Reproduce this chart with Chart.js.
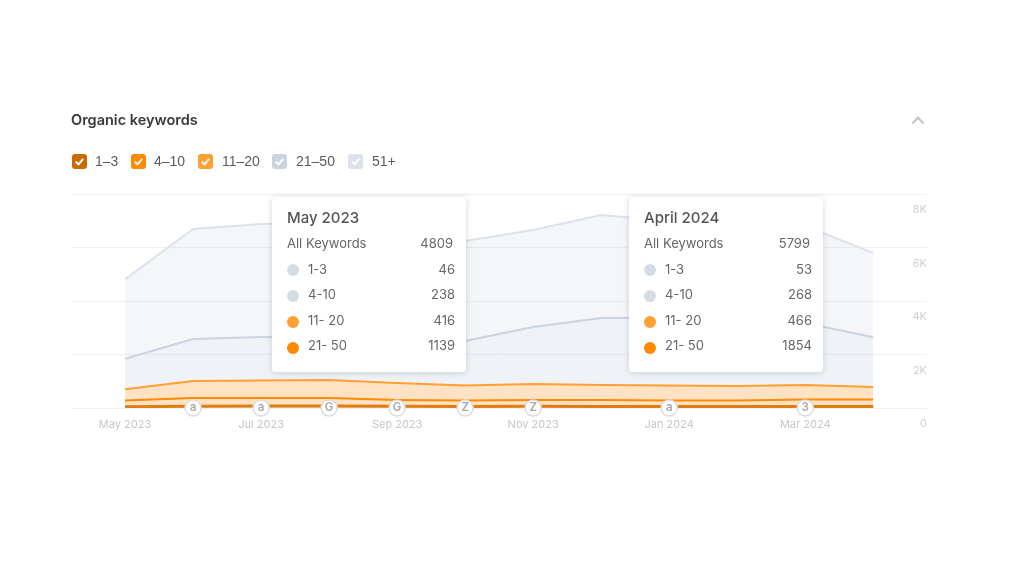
<!DOCTYPE html>
<html>
<head>
<meta charset="utf-8">
<script src="https://cdn.jsdelivr.net/npm/chart.js@4"></script>
<style>
  body { margin: 0; background: #fff; width: 1024px; height: 576px; overflow: hidden; position: relative; }
  #myChart { position: absolute; left: 0; top: 0; }
  #title { position: absolute; left: 71px; top: 111px; font: 600 14.5px Inter, sans-serif; color: #3a3a3a; }
  #chevron { position: absolute; left: 911px; top: 114px; }
  .check { position: absolute; top: 154px; width: 15px; height: 15px; border-radius: 3px; }
  .check svg { display: block; }
  .checkLabel { position: absolute; top: 153px; font: 14px "Liberation Sans", sans-serif; color: #5c5c5c; }
  .tip { position: absolute; top: 197px; width: 194px; height: 175px; background: #fff; border-radius: 4px;
         box-shadow: 0 1px 6px rgba(60,70,90,.22); font-family: Inter, sans-serif; color: #666; }
  .tip div { position: absolute; white-space: nowrap; }
  .tipTitle { left: 15px; top: 11px; font-size: 15px; font-weight: 500; color: #555; }
  .tipName { left: 15px; font-size: 13px; }
  .tipVal { right: 11px; font-size: 13px; }
  .tipDot { left: 15px; width: 12px; height: 12px; border-radius: 50%; }
</style>
</head>
<body>
<canvas id="myChart" width="1024" height="576"></canvas>
<div id="title">Organic keywords</div>
<svg id="chevron" width="14" height="12"><path d="M1.5 9.5 L7 3.5 L12.5 9.5" fill="none" stroke="#c4c4c4" stroke-width="2"/></svg>
<script>
const months = ['May 2023','Jun 2023','Jul 2023','Aug 2023','Sep 2023','Oct 2023','Nov 2023','Dec 2023','Jan 2024','Feb 2024','Mar 2024','Apr 2024'];

const pos1to3 =    [46, 70, 72, 75, 62, 58, 62, 60, 55, 55, 60, 53];
const pos4to10 =   [238, 304, 302, 299, 237, 222, 237, 239, 225, 225, 258, 268];
const pos11to20 =  [416, 636, 654, 673, 636, 561, 598, 561, 561, 543, 542, 466];
const pos21to50 =  [1139, 1569, 1626, 1644, 1644, 1663, 2131, 2504, 2523, 2467, 2317, 1854];
const pos51plus =  [2970, 4111, 4226, 4259, 3921, 3739, 3626, 3851, 3626, 3625, 3623, 3158];

// letters in the little round badges sitting on the x axis
const badgeIndex = [1, 2, 3, 4, 5, 6, 8, 10];
const badgeLetters = ['a', 'a', 'G', 'G', 'Z', 'Z', 'a', '3'];

const legendNames = ['1–3', '4–10', '11–20', '21–50', '51+'];
const legendColors = ['#c96a04', '#ff8a00', '#ffa033', '#cbd3de', '#dde2ea'];
const legendBoxX = [72, 131, 198, 272, 348];
const legendTextX = [95, 154, 222, 296, 372];

const tipTitles = ['May 2023', 'April 2024'];
const tipIndex = [0, 11];
const tipLeft = [272, 629];
const tipNames = ['1-3', '4-10', '11- 20', '21- 50'];
const tipDots = ['#d5dce5', '#d5dce5', '#ffa033', '#ff8a00'];
const tipSeries = [pos1to3, pos4to10, pos11to20, pos21to50];

const toPoints = (arr) => arr.map((v, i) => ({ x: i, y: v }));

// legend
legendNames.forEach((name, i) => {
  const box = document.createElement('div');
  box.className = 'check';
  box.style.left = legendBoxX[i] + 'px';
  box.style.background = legendColors[i];
  box.innerHTML = '<svg width="15" height="15"><path d="M3.8 7.8 L6.5 10.4 L11.2 4.9" fill="none" stroke="#fff" stroke-width="2"/></svg>';
  document.body.appendChild(box);
  const txt = document.createElement('div');
  txt.className = 'checkLabel';
  txt.style.left = legendTextX[i] + 'px';
  txt.textContent = name;
  document.body.appendChild(txt);
});

// the two pinned tooltips
tipTitles.forEach((title, t) => {
  const idx = tipIndex[t];
  const total = pos1to3[idx] + pos4to10[idx] + pos11to20[idx] + pos21to50[idx] + pos51plus[idx];
  let html = `<div class="tipTitle">${title}</div>`;
  html += `<div class="tipName" style="top:38px">All Keywords</div><div class="tipVal" style="top:38px;right:13px">${total}</div>`;
  tipNames.forEach((name, i) => {
    const top = 64 + i * 25.4;
    html += `<div class="tipDot" style="top:${67 + i * 26}px;background:${tipDots[i]}"></div>`;
    html += `<div class="tipName" style="left:36px;top:${top}px">${name}</div>`;
    html += `<div class="tipVal" style="top:${top}px">${tipSeries[i][idx]}</div>`;
  });
  const tip = document.createElement('div');
  tip.className = 'tip';
  tip.style.left = tipLeft[t] + 'px';
  tip.innerHTML = html;
  document.body.appendChild(tip);
});

const badgeLabels = {
  id: 'badgeLabels',
  afterDatasetsDraw(chart) {
    const ctx = chart.ctx;
    const meta = chart.getDatasetMeta(5);
    ctx.save();
    ctx.font = '600 11.5px Inter, sans-serif';
    ctx.fillStyle = '#a8a8a8';
    ctx.textAlign = 'center';
    ctx.textBaseline = 'middle';
    meta.data.forEach((pt, i) => ctx.fillText(badgeLetters[i], pt.x, pt.y - 0.5));
    ctx.restore();
  }
};

const area = (label, data, line, fillColor, fill, width) => ({
  label,
  data: toPoints(data),
  borderColor: line,
  backgroundColor: fillColor,
  borderWidth: width,
  pointRadius: 0,
  tension: 0,
  fill,
  stack: 'kw'
});

new Chart(document.getElementById('myChart').getContext('2d'), {
  type: 'line',
  data: {
    datasets: [
      area('1–3', pos1to3, '#df7c12', 'rgba(255,160,60,.3)', 'origin', 3),
      area('4–10', pos4to10, '#ff8a00', 'rgba(255,160,60,.3)', '-1', 2),
      area('11–20', pos11to20, '#ffa033', 'rgba(255,160,60,.3)', '-1', 2),
      area('21–50', pos21to50, '#cbd3de', 'rgba(190,203,220,.24)', '-1', 2),
      area('51+', pos51plus, '#dde2ea', 'rgba(205,213,226,.22)', '-1', 2),
      {
        label: 'badges',
        data: badgeIndex.map((i) => ({ x: i, y: 0 })),
        showLine: false,
        pointRadius: 8,
        pointBackgroundColor: '#fff',
        pointBorderColor: '#dcdcdc',
        pointBorderWidth: 1.5,
        clip: false,
        stack: 'badges',
        order: -1
      }
    ]
  },
  options: {
    responsive: false,
    animation: false,
    layout: { padding: { left: 72, right: 97, top: 194, bottom: 138 } },
    plugins: { legend: { display: false }, tooltip: { enabled: false } },
    scales: {
      x: {
        type: 'linear',
        min: -0.78,
        max: 11.79,
        afterBuildTicks: (scale) => { scale.ticks = [0, 2, 4, 6, 8, 10].map((v) => ({ value: v })); },
        afterFit: (scale) => { scale.height = 30; },
        grid: { display: false },
        border: { display: false },
        ticks: {
          autoSkip: false,
          maxRotation: 0,
          padding: 2,
          color: '#c4c7cb',
          font: { family: 'Inter', size: 11 },
          callback: (v) => months[v]
        }
      },
      y: {
        position: 'right',
        stacked: true,
        min: 0,
        max: 8000,
        border: { display: false },
        grid: { color: '#eef0f2', drawTicks: false },
        ticks: {
          stepSize: 2000,
          mirror: true,
          padding: 0,
          labelOffset: 16,
          color: '#cfcfcf',
          font: { family: 'Inter', size: 11 },
          callback: (v) => (v === 0 ? '0' : v / 1000 + 'K')
        }
      }
    }
  },
  plugins: [badgeLabels]
});
</script>
</body>
</html>
